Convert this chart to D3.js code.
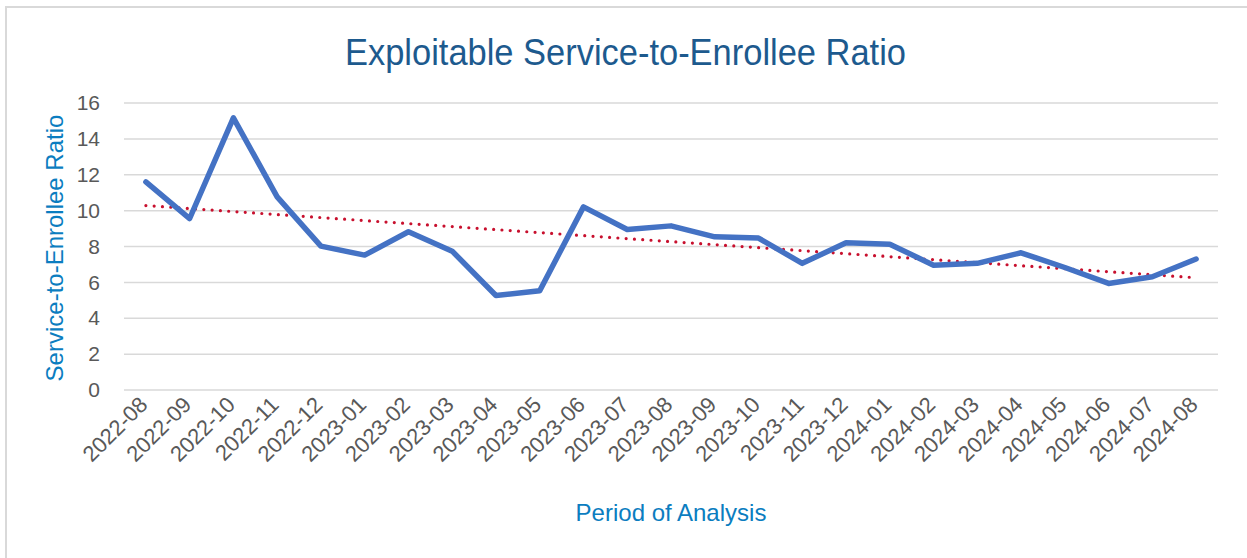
<!DOCTYPE html>
<html>
<head>
<meta charset="utf-8">
<script src="https://cdn.jsdelivr.net/npm/d3@7"></script>
<style>
  html, body { margin: 0; padding: 0; background: #ffffff; }
  svg { display: block; }
</style>
</head>
<body>
<svg id="chart" width="1247" height="558"></svg>
<script>
// Monthly periods on the x axis
const periods = [
  "2022-08", "2022-09", "2022-10", "2022-11", "2022-12",
  "2023-01", "2023-02", "2023-03", "2023-04", "2023-05", "2023-06", "2023-07",
  "2023-08", "2023-09", "2023-10", "2023-11", "2023-12",
  "2024-01", "2024-02", "2024-03", "2024-04", "2024-05", "2024-06", "2024-07", "2024-08"
];

// Service-to-enrollee ratio for each period
const ratios = [
  11.6, 9.56, 15.17, 10.77, 8.02,
  7.52, 8.82, 7.74, 5.27, 5.53, 10.21, 8.95,
  9.15, 8.54, 8.47, 7.06, 8.21,
  8.13, 6.96, 7.06, 7.65, 6.83, 5.94, 6.31, 7.30
];

const yTicks = [0, 2, 4, 6, 8, 10, 12, 14, 16];

const titleText = "Exploitable Service-to-Enrollee Ratio";
const yTitle = "Service-to-Enrollee Ratio";
const xTitle = "Period of Analysis";

const W = 1247, H = 558;
const margin = { top: 103, right: 29, bottom: 168, left: 124 };
const innerW = W - margin.left - margin.right;
const innerH = H - margin.top - margin.bottom;

const font = "'Liberation Sans', Arial, sans-serif";

const svg = d3.select("#chart");

// chart frame (top and left edges visible)
svg.append("path")
  .attr("d", `M6,${H} L6,7 L${W},7`)
  .attr("fill", "none")
  .attr("stroke", "#d9d9d9")
  .attr("stroke-width", 2);

const g = svg.append("g").attr("transform", `translate(${margin.left},${margin.top})`);

const x = d3.scaleBand().domain(periods).range([0, innerW]).padding(0);
const y = d3.scaleLinear().domain([0, 16]).range([innerH, 0]);
const cx = p => x(p) + x.bandwidth() / 2;

// horizontal gridlines
g.append("g")
  .selectAll("line")
  .data(yTicks)
  .join("line")
  .attr("x1", 0).attr("x2", innerW)
  .attr("y1", d => y(d)).attr("y2", d => y(d))
  .attr("stroke", "#d9d9d9")
  .attr("stroke-width", 1.5);

// y axis tick labels
const yAxis = g.append("g")
  .call(d3.axisLeft(y).tickValues(yTicks).tickSize(0).tickPadding(24).tickFormat(d3.format("d")));
yAxis.select(".domain").remove();
yAxis.selectAll("text")
  .attr("fill", "#595959")
  .style("font-family", font)
  .style("font-size", "21px");

// x axis tick labels, rotated
const xAxis = g.append("g")
  .attr("transform", `translate(0,${innerH})`)
  .call(d3.axisBottom(x).tickSize(0).tickPadding(0));
xAxis.select(".domain").remove();
xAxis.selectAll("text")
  .attr("fill", "#595959")
  .style("font-family", font)
  .style("font-size", "22px")
  .attr("text-anchor", "end")
  .attr("dy", "0")
  .attr("y", 0)
  .attr("transform", "translate(3,16) rotate(-45)");

// linear trend (least squares) over period index
const n = ratios.length;
const idx = d3.range(n);
const mx = d3.mean(idx), my = d3.mean(ratios);
const slope = d3.sum(idx, i => (i - mx) * (ratios[i] - my)) / d3.sum(idx, i => (i - mx) * (i - mx));
const intercept = my - slope * mx;

g.append("path")
  .datum(idx)
  .attr("fill", "none")
  .attr("stroke", "#c8102e")
  .attr("stroke-width", 3.2)
  .attr("stroke-linecap", "round")
  .attr("stroke-dasharray", "0 8.3")
  .attr("d", d3.line().x(i => cx(periods[i])).y(i => y(intercept + slope * i))(d3.extent(idx)));

// main series line
g.append("path")
  .datum(ratios)
  .attr("fill", "none")
  .attr("stroke", "#4472c4")
  .attr("stroke-width", 5.5)
  .attr("stroke-linejoin", "round")
  .attr("stroke-linecap", "round")
  .attr("d", d3.line().x((d, i) => cx(periods[i])).y(d => y(d)));

// chart title
svg.append("text")
  .attr("x", 625.5).attr("y", 65)
  .attr("text-anchor", "middle")
  .attr("fill", "#1d5a8e")
  .attr("textLength", 561)
  .attr("lengthAdjust", "spacingAndGlyphs")
  .style("font-family", font)
  .style("font-size", "36px")
  .text(titleText);

// axis titles
svg.append("text")
  .attr("transform", `translate(63,248) rotate(-90)`)
  .attr("text-anchor", "middle")
  .attr("fill", "#0b7dc0")
  .style("font-family", font)
  .style("font-size", "24px")
  .text(yTitle);

svg.append("text")
  .attr("x", 671).attr("y", 521)
  .attr("text-anchor", "middle")
  .attr("fill", "#0b7dc0")
  .style("font-family", font)
  .style("font-size", "24px")
  .text(xTitle);
</script>
</body>
</html>
